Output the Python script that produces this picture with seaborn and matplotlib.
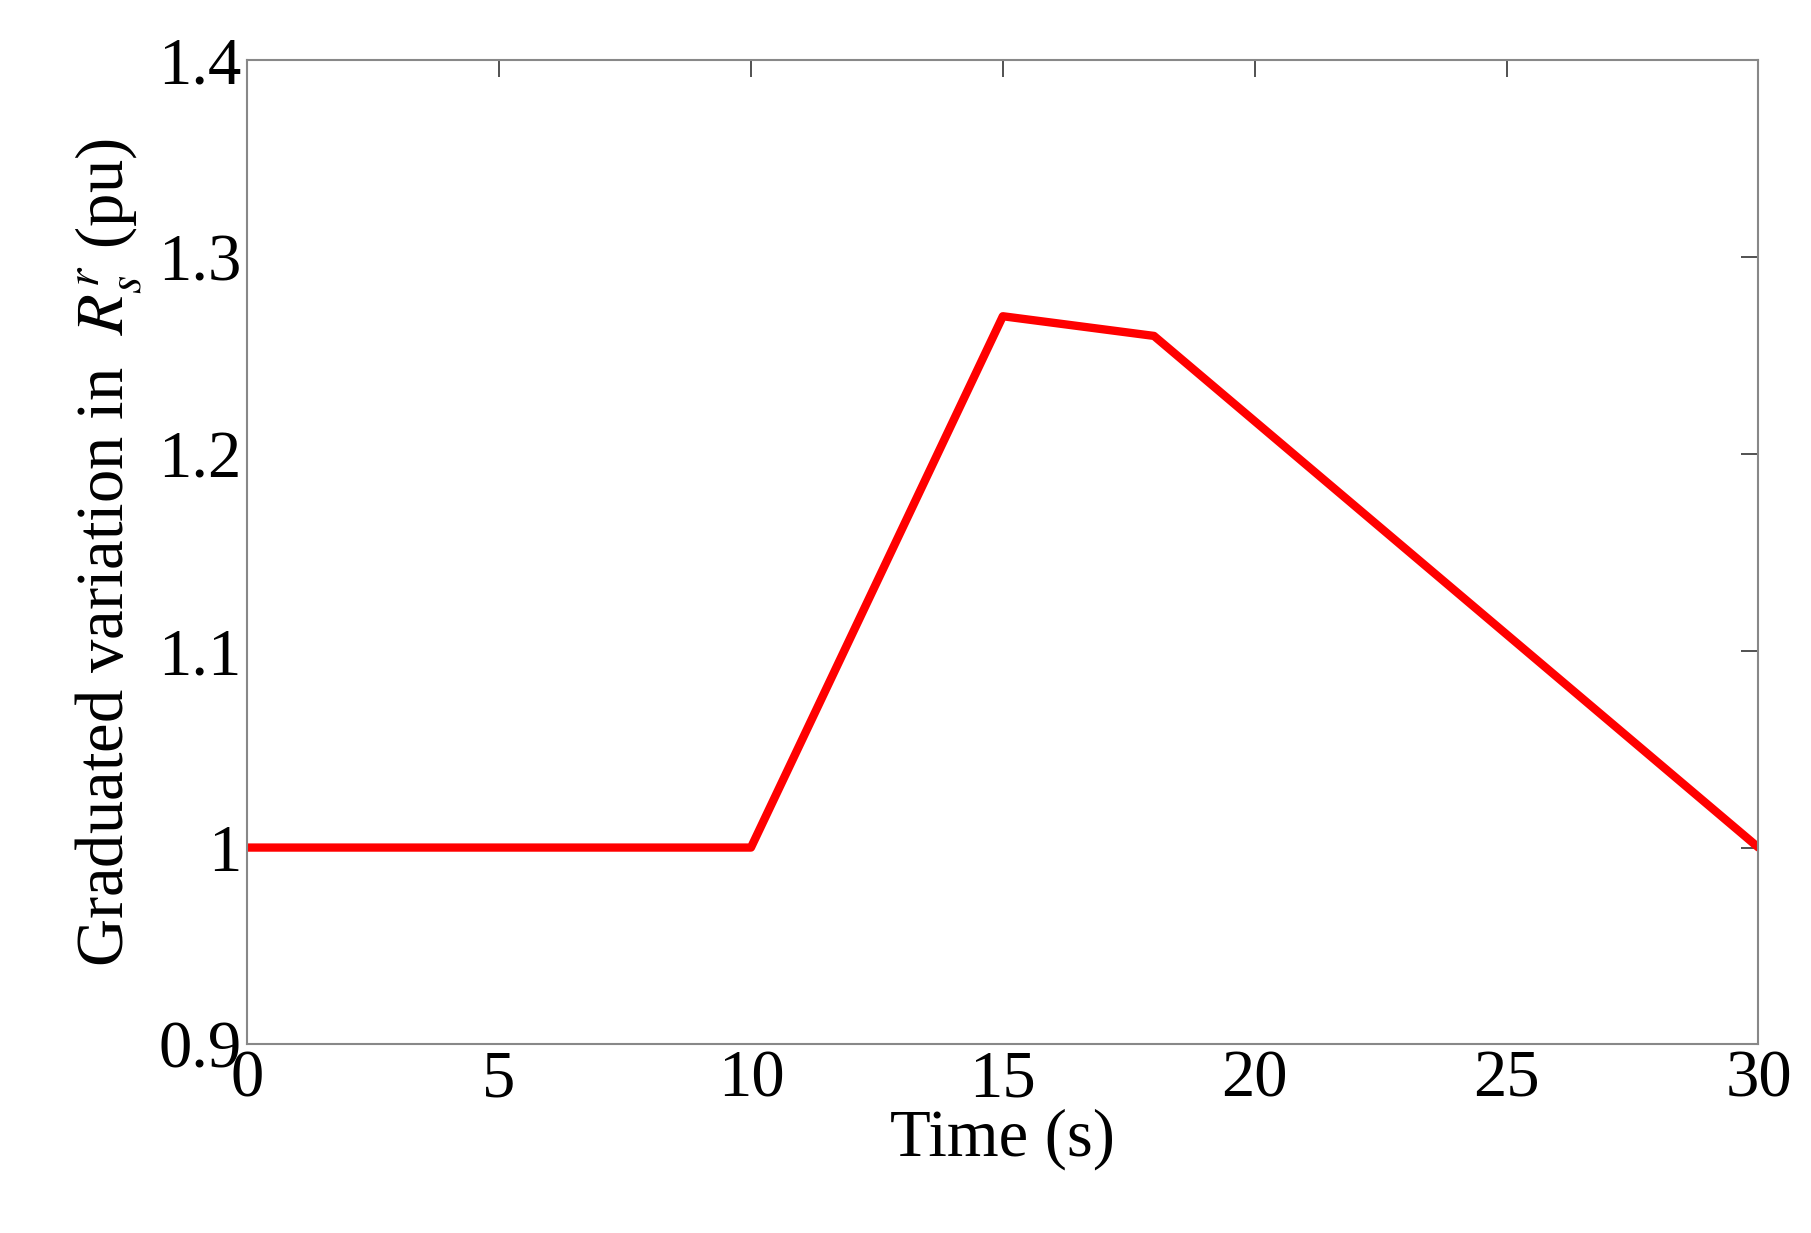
import matplotlib
matplotlib.use("Agg")
import matplotlib.pyplot as plt
import seaborn as sns
import pandas as pd

time_s = [0, 10, 15, 18, 30]
rs_pu = [1.0, 1.0, 1.27, 1.26, 1.0]
xticks = [0, 5, 10, 15, 20, 25, 30]
yticks = [0.9, 1.0, 1.1, 1.2, 1.3, 1.4]
ytick_labels = ["0.9", "1", "1.1", "1.2", "1.3", "1.4"]

sns.set_theme(style="white")
plt.rcParams['font.family'] = ['Liberation Serif', 'DejaVu Serif']
plt.rcParams['mathtext.fontset'] = 'stix'

fig = plt.figure(figsize=(18.11, 12.33), dpi=100)
ax = fig.add_axes([0.1365, 0.153, 0.8345, 0.798])
df = pd.DataFrame({"t": time_s, "r": rs_pu})
sns.lineplot(data=df, x="t", y="r", color="red", linewidth=6, ax=ax)
ax.set_xlim(0, 30)
ax.set_ylim(0.9, 1.4)
ax.set_xticks(xticks)
ax.set_xticklabels([str(v) for v in xticks])
ax.set_yticks(yticks)
ax.set_yticklabels(ytick_labels)
ax.tick_params(direction="in", length=12, width=1.2, labelsize=48, top=True, right=True,
               colors="#333333", labelcolor="black", pad=4)
for s in ax.spines.values():
    s.set_color("#888888")
    s.set_linewidth(1.5)
ax.set_xlabel("Time (s)", fontsize=48, labelpad=-2, color="black")
ax.set_ylabel(r"Graduated variation in  $R_s^r$ (pu)", fontsize=48, labelpad=10, color="black")
fig.savefig("out.png", dpi=100, facecolor="white")
